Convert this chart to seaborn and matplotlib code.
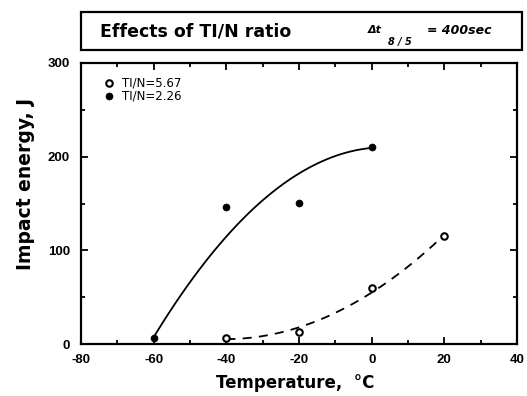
import numpy as np
import pandas as pd
import matplotlib
matplotlib.use('Agg')
import matplotlib.pyplot as plt
import seaborn as sns
from matplotlib.ticker import MultipleLocator
from matplotlib.patches import Rectangle

# ==== DATA ====
temp_high = [-40, -20, 0, 20]        # Ti/N = 5.67 (open)
energy_high = [7, 13, 60, 115]
temp_low = [-60, -40, -20, 0]        # Ti/N = 2.26 (filled)
energy_low = [7, 146, 151, 210]
labels = ['TI/N=5.67', 'TI/N=2.26']

sns.set_style('ticks')
plt.rcParams['font.family'] = ['Liberation Sans', 'DejaVu Sans']
plt.rcParams['axes.unicode_minus'] = False
for key in ['text.color', 'axes.labelcolor', 'xtick.color', 'ytick.color', 'axes.edgecolor']:
    plt.rcParams[key] = 'black'

fig = plt.figure(figsize=(5.27, 3.96), dpi=100)
ax = fig.add_axes([0.154, 0.131, 0.827, 0.71])

# quadratic trend lines, like the original figure
def trend(x, y, w=None):
    coef = np.polyfit(x, y, 2, w=w)
    xs = np.linspace(min(x), max(x), 100)
    return pd.DataFrame({'x': xs, 'y': np.polyval(coef, xs)})

fit_low = trend(temp_low, energy_low, w=[4, 1, 1, 4])
fit_high = trend(temp_high, energy_high)
sns.lineplot(data=fit_low, x='x', y='y', ax=ax, color='black', lw=1.3)
sns.lineplot(data=fit_high, x='x', y='y', ax=ax, color='black', lw=1.3)
ax.lines[-1].set_dashes([5, 4])

sns.scatterplot(x=temp_high, y=energy_high, ax=ax, marker='o', s=22,
                facecolor='white', edgecolor='black', linewidth=1.5, label=labels[0], zorder=3)
sns.scatterplot(x=temp_low, y=energy_low, ax=ax, marker='o', s=26,
                color='black', edgecolor='black', label=labels[1], zorder=3)

ax.set_xlim(-80, 40)
ax.set_ylim(0, 300)
ax.xaxis.set_major_locator(MultipleLocator(20))
ax.xaxis.set_minor_locator(MultipleLocator(10))
ax.yaxis.set_major_locator(MultipleLocator(100))
ax.yaxis.set_minor_locator(MultipleLocator(50))
ax.tick_params(which='both', direction='in', top=True, right=True, width=1.3, color='black')
ax.tick_params(which='major', length=5, labelsize=9.5)
ax.tick_params(which='minor', length=3)
ax.tick_params(axis='x', pad=7)
ax.tick_params(axis='y', pad=8)
for lab in ax.get_xticklabels() + ax.get_yticklabels():
    lab.set_fontweight('bold')
for sp in ax.spines.values():
    sp.set_linewidth(1.6)
    sp.set_color('black')

ax.set_xlabel('Temperature,  °C', fontsize=12, fontweight='bold', family='DejaVu Sans')
ax.set_ylabel('Impact energy, J', fontsize=13.5, fontweight='bold', family='DejaVu Sans')
ax.xaxis.set_label_coords(0.49, -0.105)
ax.yaxis.set_label_coords(-0.105, 0.57)

leg = ax.legend(loc='upper left', bbox_to_anchor=(0.035, 0.97), frameon=False,
                handletextpad=0.4, borderaxespad=0, labelspacing=0.0, handlelength=1.4,
                prop={'family': 'DejaVu Sans', 'size': 8.5})

# title box above the plot
fig.patches.append(Rectangle((0.154, 0.874), 0.836, 0.096, transform=fig.transFigure,
                             fill=False, edgecolor='black', lw=1.6))
fig.text(0.19, 0.92, 'Effects of TI/N ratio', fontsize=12.5, fontweight='bold',
         family='DejaVu Sans', va='center')
fig.text(0.697, 0.924, 'Δt', fontsize=8, fontweight='bold', style='italic',
         family='DejaVu Sans', va='center')
fig.text(0.737, 0.893, '8 / 5', fontsize=7, fontweight='bold', style='italic',
         family='DejaVu Sans', va='center')
fig.text(0.81, 0.924, '= 400sec', fontsize=9, fontweight='bold', style='italic',
         family='DejaVu Sans', va='center')

fig.savefig('out.png', dpi=100)
